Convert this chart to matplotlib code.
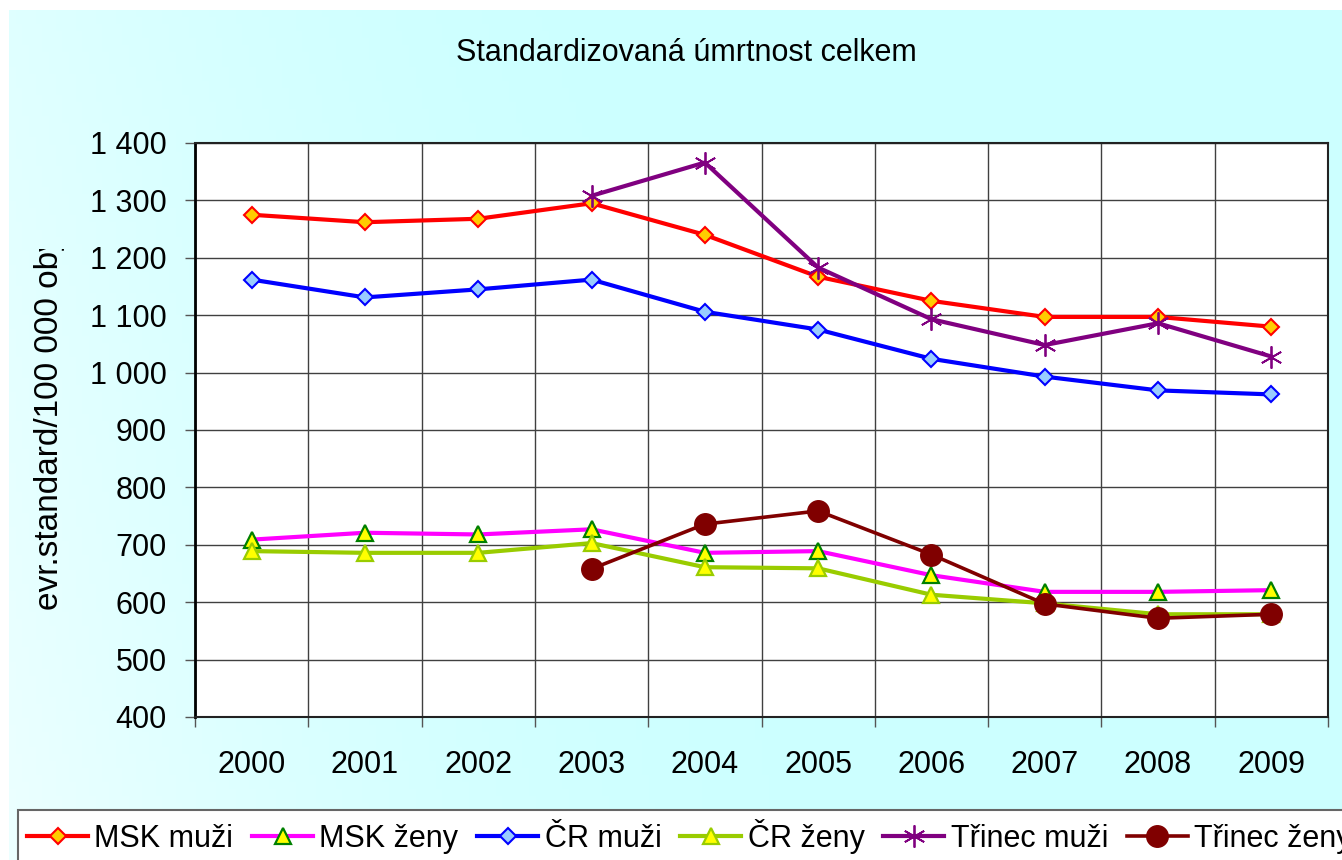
import numpy as np
import matplotlib
matplotlib.use("Agg")
from matplotlib import pyplot as plt
from matplotlib.transforms import Bbox, TransformedBbox

plt.rcParams['font.family'] = ['Liberation Sans', 'DejaVu Sans']

# Data
years = ["2000", "2001", "2002", "2003", "2004", "2005", "2006", "2007", "2008", "2009"]
msk_muzi = [1275, 1262, 1268, 1295, 1240, 1167, 1125, 1097, 1097, 1080]
msk_zeny = [709, 721, 718, 727, 686, 689, 647, 618, 618, 621]
cr_muzi = [1162, 1131, 1145, 1162, 1106, 1075, 1024, 993, 969, 962]
cr_zeny = [689, 686, 686, 703, 661, 659, 613, 598, 579, 579]
trinec_muzi = [np.nan, np.nan, np.nan, 1308, 1366, 1183, 1093, 1048, 1086, 1028]
trinec_zeny = [np.nan, np.nan, np.nan, 658, 736, 759, 683, 597, 572, 579]
y_ticks = [400, 500, 600, 700, 800, 900, 1000, 1100, 1200, 1300, 1400]

W, H = 1342, 860
fig = plt.figure(figsize=(W / 100, H / 100), dpi=100, facecolor="white")

# Pozadí grafu (světle azurové s jemným přechodem)
bg = fig.add_axes([9 / W, 0, 1 - 9 / W, 1 - 10 / H], zorder=-10)
gx = np.linspace(0, 1, 200)
gy = np.linspace(0, 1, 120)
XX, YY = np.meshgrid(gx, gy)
t = np.clip((1 - XX * 2.2) * 0.6 + YY * 0.4, 0, 1) * np.clip(1 - XX * 1.5, 0, 1)
c1 = np.array([0xCC, 0xFF, 0xFF]) / 255
c2 = np.array([0xEC, 0xFF, 0xFF]) / 255
img = c1[None, None, :] * (1 - t[..., None]) + c2[None, None, :] * t[..., None]
bg.imshow(img, aspect="auto", extent=[0, 1, 0, 1], origin="upper")
bg.axis("off")

# Oblast grafu
ax = fig.add_axes([195 / W, 1 - 717 / H, (1328 - 195) / W, (717 - 143) / H])
ax.set_facecolor("white")
x = np.arange(len(years))

ax.plot(x, msk_muzi, color="#FF0000", lw=3, marker="D", ms=8.5,
        mfc="#FFCC00", mec="#FF0000", mew=1.5, label="MSK muži", zorder=3)
ax.plot(x, msk_zeny, color="#FF00FF", lw=3, marker="^", ms=12,
        mfc="#FFFF00", mec="#008000", mew=1.6, label="MSK ženy", zorder=3)
ax.plot(x, cr_muzi, color="#0000FF", lw=3, marker="D", ms=8.5,
        mfc="#99CCFF", mec="#0000FF", mew=1.5, label="ČR muži", zorder=3)
ax.plot(x, cr_zeny, color="#99CC00", lw=3, marker="^", ms=12,
        mfc="#FFFF00", mec="#99CC00", mew=1.6, label="ČR ženy", zorder=3)
ax.plot(x, trinec_muzi, color="#800080", lw=3, marker=(6, 2, 0), ms=16,
        mec="#800080", mew=1.3, label="Třinec muži", zorder=3)
ax.plot(x, trinec_zeny, color="#800000", lw=2.6, marker="o", ms=15.5,
        mfc="#800000", mec="#800000", label="Třinec ženy", zorder=3)

ax.set_xlim(-0.5, len(years) - 0.5)
ax.set_ylim(400, 1400)
ax.set_yticks(y_ticks)
ax.set_yticklabels([f"{v:,}".replace(",", " ") for v in y_ticks])
ax.set_xticks(np.arange(-0.5, len(years), 1.0))
ax.set_xticklabels([])
ax.set_xticks(x, minor=True)
ax.set_xticklabels(years, minor=True)
ax.tick_params(axis="x", which="major", length=7, width=1, color="#555555", direction="out")
ax.tick_params(axis="x", which="minor", length=0, pad=23.5, labelsize=22)
ax.tick_params(axis="y", length=7, width=1, color="#555555", direction="out", pad=13.5, labelsize=22)
ax.grid(True, which="major", color="#404040", lw=1)
ax.set_axisbelow(True)
for s in ["top", "right"]:
    ax.spines[s].set_color("#222222")
    ax.spines[s].set_linewidth(1.5)
ax.spines["left"].set_color("black")
ax.spines["left"].set_linewidth(2)
ax.spines["bottom"].set_color("#222222")
ax.spines["bottom"].set_linewidth(1.5)

# Nadpis
fig.text(686 / W, 1 - 53 / H, "Standardizovaná úmrtnost celkem", ha="center",
         va="center", fontsize=22)

# Popisek osy y (v originále oříznutý nahoře)
yl = fig.text(50 / W, 1 - 610 / H, "evr.standard/100 000 obyv.", rotation=90,
              ha="center", va="bottom", fontsize=24)
yl.set_clip_box(TransformedBbox(Bbox([[0, 0], [1, 1 - 249 / H]]), fig.transFigure))
yl.set_clip_on(True)

# Legenda
handles, labels = ax.get_legend_handles_labels()
leg = fig.legend(handles, labels, ncol=6, loc="upper left",
                 bbox_to_anchor=(18 / W, 1 - 810 / H), fontsize=22,
                 frameon=True, fancybox=False, borderpad=0.3,
                 handlelength=2.0, handletextpad=0.2, columnspacing=0.62,
                 borderaxespad=0)
leg.get_frame().set_edgecolor("#666666")
leg.get_frame().set_linewidth(1.5)
leg.get_frame().set_facecolor("white")
leg.get_frame().set_alpha(1)

plt.savefig("out.png", dpi=100)
plt.close()
